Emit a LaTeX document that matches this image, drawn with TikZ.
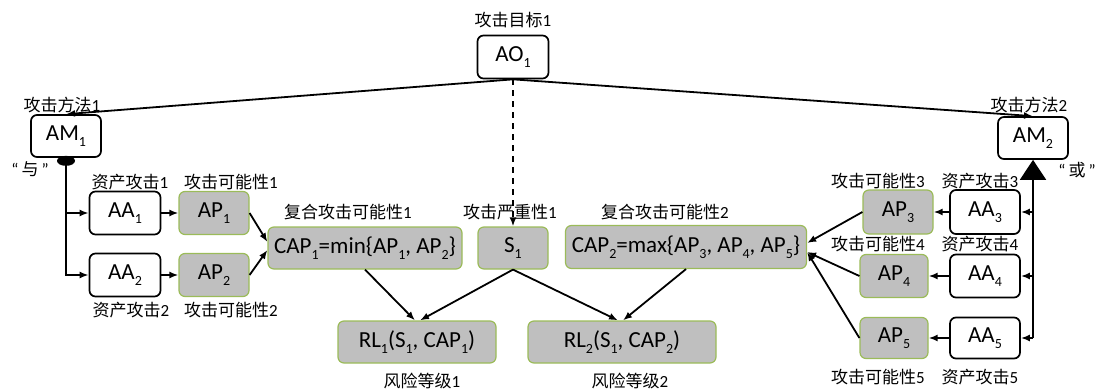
\documentclass[tikz,border=0pt]{standalone}
\usepackage{fontspec}
\setmainfont{Carlito}
\newfontfamily\cjk{Noto Sans CJK SC}
\usetikzlibrary{arrows.meta}
\definecolor{boxgray}{RGB}{191,191,191}
\definecolor{boxedge}{RGB}{155,187,89}
% small lowered index digit
\newcommand{\sbs}[1]{\raisebox{-0.28em}{\fontsize{14}{14}\selectfont #1}}
% quoted CJK word with narrow quotes
\newcommand{\qword}[1]{“\hspace{3pt}{\cjk #1}\hspace{3pt}”}
\begin{document}
\begin{tikzpicture}[x=1pt,y=-1pt,
  whitebox/.style={draw=black, line width=1.7pt, rounded corners=6pt, fill=white,
    minimum width=71pt, minimum height=43pt, inner sep=0pt,
    font=\fontsize{23}{27}\selectfont},
  graybox/.style={draw=boxedge, line width=1.2pt, rounded corners=6pt, fill=boxgray,
    minimum width=70pt, minimum height=43pt, inner sep=0pt,
    font=\fontsize{23}{27}\selectfont},
  lbl/.style={inner sep=0pt, font=\fontsize{17}{20}\selectfont},
  link/.style={line width=1.8pt, -{Latex[length=9pt,width=7pt]}},
]
\useasboundingbox (0,0) rectangle (1099,390);

% goal and methods
\node[whitebox] (AO1) at (513,57) {AO\sbs{1}};
\node[whitebox, minimum width=70pt, minimum height=42pt] (AM1) at (66,136) {AM\sbs{1}};
\node[whitebox, minimum width=70pt, minimum height=42pt] (AM2) at (1033,138) {AM\sbs{2}};

% left branch
\node[whitebox] (AA1) at (125,213) {AA\sbs{1}};
\node[graybox]  (AP1) at (214,213) {AP\sbs{1}};
\node[whitebox] (AA2) at (125,275) {AA\sbs{2}};
\node[graybox]  (AP2) at (214,275) {AP\sbs{2}};

% combined values and severity
\node[graybox, minimum width=194pt, minimum height=42pt] (CAP1) at (365,248)
  {CAP\sbs{1}=min\{AP\sbs{1}, AP\sbs{2}\}};
\node[graybox, minimum height=42pt] (S1) at (513,248) {S\sbs{1}};
\node[graybox, minimum width=241pt] (CAP2) at (686,247)
  {CAP\sbs{2}=max\{AP\sbs{3}, AP\sbs{4}, AP\sbs{5}\}};

% risk levels
\node[graybox, minimum width=158pt, minimum height=42pt] (RL1) at (417,342)
  {RL\sbs{1}(S\sbs{1}, CAP\sbs{1})};
\node[graybox, minimum width=188pt, minimum height=42pt] (RL2) at (622,342)
  {RL\sbs{2}(S\sbs{1}, CAP\sbs{2})};

% right branch
\node[graybox, minimum height=44pt] (AP3) at (898,212) {AP\sbs{3}};
\node[whitebox, minimum width=70pt, minimum height=44pt] (AA3) at (985,212) {AA\sbs{3}};
\node[graybox, minimum width=68pt] (AP4) at (894,276) {AP\sbs{4}};
\node[whitebox, minimum width=70pt] (AA4) at (985,276) {AA\sbs{4}};
\node[graybox, minimum width=68pt, minimum height=41pt] (AP5) at (894,338) {AP\sbs{5}};
\node[whitebox, minimum width=70pt, minimum height=41pt] (AA5) at (985,338) {AA\sbs{5}};

% captions
\node[lbl] (tAO1) at (513,20) {{\cjk 攻击目标}1};
\node[lbl] (tAM1) at (62,105) {{\cjk 攻击方法}1};
\node[lbl] (tAM2) at (1029,105) {{\cjk 攻击方法}2};
\node[lbl] (tand) at (30,169) {\qword{与}};
\node[lbl] (tor) at (1077,170) {\qword{或}};
\node[lbl] (tAA1) at (130,182) {{\cjk 资产攻击}1};
\node[lbl] (tAP1) at (231,182) {{\cjk 攻击可能性}1};
\node[lbl] (tAA2) at (131,310) {{\cjk 资产攻击}2};
\node[lbl] (tAP2) at (231,310) {{\cjk 攻击可能性}2};
\node[lbl] (tCAP1) at (348,212) {{\cjk 复合攻击可能性}1};
\node[lbl] (tS1) at (510,212) {{\cjk 攻击严重性}1};
\node[lbl] (tCAP2) at (665,212) {{\cjk 复合攻击可能性}2};
\node[lbl] (tRL1) at (422,381) {{\cjk 风险等级}1};
\node[lbl] (tRL2) at (630,381) {{\cjk 风险等级}2};
\node[lbl] (tAP3) at (878,181) {{\cjk 攻击可能性}3};
\node[lbl] (tAA3) at (980,181) {{\cjk 资产攻击}3};
\node[lbl] (tAP4) at (878,244) {{\cjk 攻击可能性}4};
\node[lbl] (tAA4) at (980,244) {{\cjk 资产攻击}4};
\node[lbl] (tAP5) at (878,377) {{\cjk 攻击可能性}5};
\node[lbl] (tAA5) at (980,377) {{\cjk 资产攻击}5};

% goal to methods and severity
\draw[link] (AO1.south) -- (AM1.north);
\draw[link] (AO1.south) -- (AM2.north);
\draw[link, dash pattern=on 6pt off 5pt] (AO1.south) -- (S1.north);

% "and" decomposition
\fill[black] ([yshift=-3pt]AM1.south) ellipse [x radius=9pt, y radius=5pt];
\draw[link] ([yshift=-3pt]AM1.south) |- (AA1.west);
\draw[link] ([yshift=-3pt]AM1.south) |- (AA2.west);
\draw[link] (AA1.east) -- (AP1.west);
\draw[link] (AA2.east) -- (AP2.west);
\draw[link] (AP1.east) -- ([yshift=6pt]CAP1.west);
\draw[link] (AP2.east) -- ([yshift=-2pt]CAP1.west);

% "or" decomposition
\draw[line width=1.8pt, -{Triangle[length=20pt,width=26pt]}]
  (AM2.south |- AA5.east) -- (AM2.south);
\draw[link] (AM2.south |- AA3.east) -- (AA3.east);
\draw[link] (AM2.south |- AA4.east) -- (AA4.east);
\draw[link] (AM2.south |- AA5.east) -- (AA5.east);
\draw[link] (AA3.west) -- (AP3.east);
\draw[link] (AA4.west) -- (AP4.east);
\draw[link] (AA5.west) -- (AP5.east);
\draw[link] (AP3.west) -- ([yshift=4pt]CAP2.east);
\draw[link] (AP4.west) -- ([yshift=-5pt]CAP2.east);
\draw[link] (AP5.west) -- ([yshift=-5pt]CAP2.east);

% risk level inputs
\draw[link] (CAP1.south) -- ([xshift=-2pt]RL1.north);
\draw[link] (S1.south) -- ([xshift=3pt]RL1.north);
\draw[link] (S1.south) -- ([xshift=-4pt]RL2.north);
\draw[link] (CAP2.south) -- ([xshift=1pt]RL2.north);
\end{tikzpicture}
\end{document}
